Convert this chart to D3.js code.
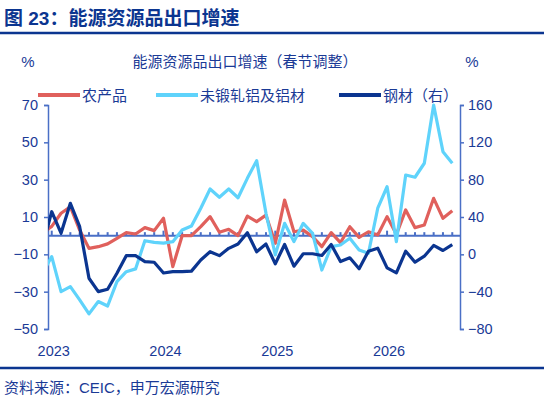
<!DOCTYPE html>
<html>
<head>
<meta charset="utf-8">
<script src="https://cdn.jsdelivr.net/npm/d3@7"></script>
<style>
  body { margin: 0; background: #fff; }
  text { font-family: "Liberation Sans", Arial, "Noto Sans CJK SC", sans-serif; }
</style>
</head>
<body>
<svg id="chart" width="544" height="406"></svg>
<script>
// months from Dec 2022 (index -1) to Aug 2026 (index 43)
const months = d3.range(-1, 44);
const yearLabels = ["2023", "2024", "2025", "2026"];

// 农产品, left axis (%)
const agri = [1.4, 5, 12, 15.5, 3, -6.8, -5.9, -4.4, -1.4, 1.6, 0.9, 4.3, 2.7,
  9.3, -16.6, 0, 0, 4.8, 10.2, 1.8, 3.4, 0, 10.5, 7.5, 11,
  -4.1, 19.1, 2.1, 3, -0.5, -5.9, 1.6, -3.7, 4.8, -0.9, 2.1, 0.4,
  10.2, 0.7, 13.8, 4.3, 5.7, 20, 9.3, 13.4];
// 未锻轧铝及铝材, left axis (%)
const alum = [-20, -11.2, -30, -27.3, -34.4, -41.9, -35.3, -37.7, -24.6, -19.3, -17.8, -2.7, -3.6,
  -4, -3.2, 3, 5.2, 14.7, 25, 20.6, 25, 20.3, 30.7, 40.2, 12,
  -10.3, 6.6, -3.2, 6.6, 1.3, -18.4, -5.9, -5, -1.4, -7.7, -9.4, 14.7,
  26.2, -3.2, 32.5, 31.3, 38.8, 70, 45, 38.8];
// 钢材, right axis (%)
const steel = [8.2, 45.7, 22.6, 54.7, 29.6, -25.6, -40, -37.4, -20.2, -1.4, -1.4, -7.8, -8.5,
  -20, -18.6, -18.6, -18, -6, 2.8, -1.4, 6.4, 11, 23.2, 2.8, 11,
  -10.2, 10.6, -12.7, 0.6, 0.6, -1.2, 10.6, -7.7, -3.7, -15.5, 3.4, 6.6,
  -14.5, -19.8, 3.4, -8.4, -2, 9.5, 4.1, 10.3];

const leftTicks = [70, 50, 30, 10, -10, -30, -50];
const rightTicks = [160, 120, 80, 40, 0, -40, -80];

const navy = "#0b3590", axisCol = "#4a6fc6", txt = "#1a3a96";
const svg = d3.select("#chart");
const m = {left: 48, right: 460, top: 105, bottom: 329};

const x = d3.scaleLinear().domain([-0.4, 43.4]).range([m.left, m.right - 4]);
const yL = d3.scaleLinear().domain([-50, 70]).range([m.bottom, m.top]);
const yR = d3.scaleLinear().domain([-80, 160]).range([m.bottom, m.top]);

// title
svg.append("text").attr("x", 4).attr("y", 25).attr("font-size", 19).attr("font-weight", "bold")
  .attr("fill", navy).text("图 23：能源资源品出口增速");
svg.append("line").attr("x1", 0).attr("x2", 544).attr("y1", 33).attr("y2", 33)
  .attr("stroke", navy).attr("stroke-width", 2.5);
svg.append("text").attr("x", 245).attr("y", 67).attr("text-anchor", "middle").attr("font-size", 15)
  .attr("fill", txt).text("能源资源品出口增速（春节调整）");
svg.append("text").attr("x", 28).attr("y", 67).attr("text-anchor", "middle").attr("font-size", 15)
  .attr("fill", txt).text("%");
svg.append("text").attr("x", 472).attr("y", 67).attr("text-anchor", "middle").attr("font-size", 15)
  .attr("fill", txt).text("%");

// axes
svg.append("g").attr("transform", `translate(${m.left},0)`)
  .call(d3.axisLeft(yL).tickValues(leftTicks).tickSize(4).tickFormat(d3.format("d")))
  .call(g => g.selectAll("line,path").attr("stroke", axisCol).attr("stroke-width", 1.5))
  .call(g => g.selectAll("text").attr("fill", txt).attr("font-size", 14.5).attr("x", -10));
svg.append("g").attr("transform", `translate(${m.right},0)`)
  .call(d3.axisRight(yR).tickValues(rightTicks).tickSize(4).tickFormat(d3.format("d")))
  .call(g => g.selectAll("line,path").attr("stroke", axisCol).attr("stroke-width", 1.5))
  .call(g => g.selectAll("text").attr("fill", txt).attr("font-size", 14.5).attr("x", 8));

// zero line with month ticks
const zg = svg.append("g").attr("transform", `translate(0,${yL(0)})`);
zg.append("line").attr("x1", m.left).attr("x2", m.right).attr("stroke", axisCol).attr("stroke-width", 2);
zg.selectAll("line.t").data(d3.range(0, 44)).join("line").attr("class", "t")
  .attr("x1", d => x(d)).attr("x2", d => x(d)).attr("y1", 0).attr("y2", d => d % 12 === 0 ? -5 : -3.5)
  .attr("stroke", axisCol).attr("stroke-width", 2);

svg.selectAll("text.yr").data(yearLabels).join("text").attr("class", "yr")
  .attr("x", (d, i) => x(i * 12) + 2).attr("y", 356).attr("text-anchor", "middle")
  .attr("font-size", 14.5).attr("fill", txt).text(d => d);

// series
svg.append("clipPath").attr("id", "clip").append("rect")
  .attr("x", m.left).attr("y", 90).attr("width", m.right - m.left).attr("height", 260);
const series = [
  {vals: agri, y: yL, color: "#e0605c"},
  {vals: alum, y: yL, color: "#5fd3fb"},
  {vals: steel, y: yR, color: navy}
];
series.forEach(s => {
  svg.append("path").attr("clip-path", "url(#clip)")
    .datum(months.map((mo, i) => [mo, s.vals[i]]))
    .attr("fill", "none").attr("stroke", s.color).attr("stroke-width", 3.2)
    .attr("stroke-linejoin", "round")
    .attr("d", d3.line().x(d => x(d[0])).y(d => s.y(d[1])));
});

// legend
const legend = [
  {name: "农产品", color: "#e0605c", x: 38},
  {name: "未锻轧铝及铝材", color: "#5fd3fb", x: 156},
  {name: "钢材（右）", color: navy, x: 339}
];
legend.forEach(l => {
  svg.append("line").attr("x1", l.x).attr("x2", l.x + 42).attr("y1", 95).attr("y2", 95)
    .attr("stroke", l.color).attr("stroke-width", 4);
  svg.append("text").attr("x", l.x + 44).attr("y", 101).attr("font-size", 15)
    .attr("fill", txt).text(l.name);
});

// footer
svg.append("line").attr("x1", 0).attr("x2", 544).attr("y1", 368).attr("y2", 368)
  .attr("stroke", navy).attr("stroke-width", 2.5);
svg.append("text").attr("x", 4).attr("y", 393).attr("font-size", 15)
  .attr("fill", txt).text("资料来源：CEIC，申万宏源研究");
</script>
</body>
</html>
